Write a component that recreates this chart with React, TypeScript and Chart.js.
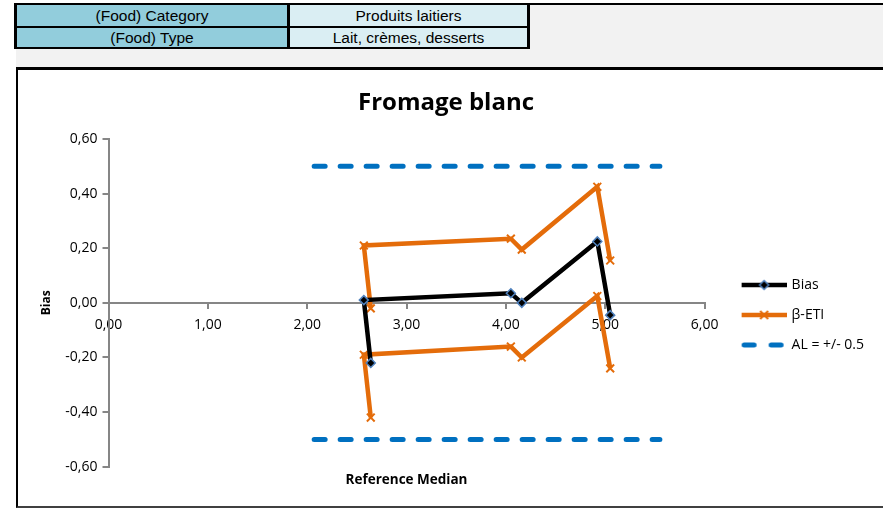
import React, { useEffect, useRef } from 'react';
import { Chart, registerables } from 'chart.js';

Chart.register(...registerables);

// ---- data ----
const referenceMedian = [2.64, 2.57, 4.05, 4.16, 4.92, 5.05];
const biasValues = [-0.22, 0.01, 0.035, 0.0, 0.225, -0.045];
const etiUpperValues = [-0.02, 0.21, 0.235, 0.195, 0.425, 0.155];
const etiLowerValues = [-0.42, -0.19, -0.16, -0.2, 0.025, -0.24];
const alXValues = [2.07, 5.55];
const alUpperValues = [0.5, 0.5];
const alLowerValues = [-0.5, -0.5];
const xTickValues = [0, 1, 2, 3, 4, 5, 6];
const yTickValues = [-0.6, -0.4, -0.2, 0, 0.2, 0.4, 0.6];
const legendLabels = ['Bias', 'β-ETI', 'AL = +/- 0.5'];
const chartTitle = 'Fromage blanc';
const xAxisTitle = 'Reference Median';
const yAxisTitle = 'Bias';
const tableRows = [
  ['(Food) Category', 'Produits laitiers'],
  ['(Food) Type', 'Lait, crèmes, desserts'],
];

const BLACK = '#000000';
const MARKER_BLUE = '#4F81BD';
const ORANGE = '#E46C0A';
const AL_BLUE = '#0070C0';
const AXIS_GRAY = '#868686';
const FONT = "'Open Sans', 'DejaVu Sans', sans-serif";

const fmt = (v: number) => Number(v).toFixed(2).replace('.', ',');

function makeLegendImage(kind: string): HTMLCanvasElement {
  const c = document.createElement('canvas');
  c.width = 68;
  c.height = 14;
  const ctx = c.getContext('2d') as CanvasRenderingContext2D;
  const x0 = 23;
  const x1 = 68;
  const cy = 7;
  const cx = (x0 + x1) / 2;
  ctx.lineCap = 'butt';
  if (kind === 'bias') {
    ctx.strokeStyle = BLACK;
    ctx.lineWidth = 4.5;
    ctx.beginPath();
    ctx.moveTo(x0, cy);
    ctx.lineTo(x1, cy);
    ctx.stroke();
    const r = 4.5;
    ctx.beginPath();
    ctx.moveTo(cx, cy - r);
    ctx.lineTo(cx + r, cy);
    ctx.lineTo(cx, cy + r);
    ctx.lineTo(cx - r, cy);
    ctx.closePath();
    ctx.fillStyle = BLACK;
    ctx.fill();
    ctx.strokeStyle = MARKER_BLUE;
    ctx.lineWidth = 1.5;
    ctx.stroke();
  } else if (kind === 'eti') {
    ctx.strokeStyle = ORANGE;
    ctx.lineWidth = 4.5;
    ctx.beginPath();
    ctx.moveTo(x0, cy);
    ctx.lineTo(x1, cy);
    ctx.stroke();
    const r = 4;
    ctx.lineWidth = 2;
    ctx.beginPath();
    ctx.moveTo(cx - r, cy - r);
    ctx.lineTo(cx + r, cy + r);
    ctx.moveTo(cx + r, cy - r);
    ctx.lineTo(cx - r, cy + r);
    ctx.stroke();
  } else {
    ctx.strokeStyle = AL_BLUE;
    ctx.lineWidth = 5;
    ctx.lineCap = 'round';
    ctx.beginPath();
    ctx.moveTo(x0 + 2.5, cy);
    ctx.lineTo(x0 + 12.5, cy);
    ctx.moveTo(x0 + 29.5, cy);
    ctx.lineTo(x0 + 39.5, cy);
    ctx.stroke();
  }
  return c;
}

export default function App() {
  const canvasRef = useRef<HTMLCanvasElement | null>(null);

  useEffect(() => {
    const canvas = canvasRef.current;
    if (!canvas) return;
    const legendImages = [makeLegendImage('bias'), makeLegendImage('eti'), makeLegendImage('al')];

    const chart = new Chart(canvas, {
      type: 'scatter',
      data: {
        datasets: [
          {
            label: legendLabels[0],
            data: referenceMedian.map((x, i) => ({ x, y: biasValues[i] })),
            showLine: true,
            borderColor: BLACK,
            borderWidth: 4.5,
            pointStyle: 'rectRot',
            pointRadius: 4.5,
            pointBackgroundColor: BLACK,
            pointBorderColor: MARKER_BLUE,
            pointBorderWidth: 1.5,
            xAxisID: 'x',
            yAxisID: 'y',
          },
          {
            label: legendLabels[1],
            data: referenceMedian.map((x, i) => ({ x, y: etiUpperValues[i] })),
            showLine: true,
            borderColor: ORANGE,
            borderWidth: 4.5,
            pointStyle: 'crossRot',
            pointRadius: 5.5,
            pointBorderColor: ORANGE,
            pointBackgroundColor: ORANGE,
            pointBorderWidth: 2,
            xAxisID: 'x',
            yAxisID: 'y',
          },
          {
            label: legendLabels[1] + ' (lower)',
            data: referenceMedian.map((x, i) => ({ x, y: etiLowerValues[i] })),
            showLine: true,
            borderColor: ORANGE,
            borderWidth: 4.5,
            pointStyle: 'crossRot',
            pointRadius: 5.5,
            pointBorderColor: ORANGE,
            pointBackgroundColor: ORANGE,
            pointBorderWidth: 2,
            xAxisID: 'x',
            yAxisID: 'y',
          },
          {
            label: legendLabels[2],
            data: alXValues.map((x, i) => ({ x, y: alUpperValues[i] })),
            showLine: true,
            borderColor: AL_BLUE,
            borderWidth: 5,
            borderDash: [11, 15],
            borderCapStyle: 'round',
            pointRadius: 0,
            xAxisID: 'x',
            yAxisID: 'y',
          },
          {
            label: legendLabels[2] + ' (lower)',
            data: alXValues.map((x, i) => ({ x, y: alLowerValues[i] })),
            showLine: true,
            borderColor: AL_BLUE,
            borderWidth: 5,
            borderDash: [11, 15],
            borderCapStyle: 'round',
            pointRadius: 0,
            xAxisID: 'x',
            yAxisID: 'y',
          },
        ],
      },
      options: {
        responsive: false,
        animation: false,
        devicePixelRatio: 1,
        layout: { padding: { left: 0, top: 0, right: 9, bottom: 15 } },
        plugins: {
          title: {
            display: true,
            text: chartTitle,
            color: BLACK,
            font: { family: FONT, size: 24, weight: 'bold', lineHeight: 1.2 },
            padding: { top: 18.6, bottom: 21.6 },
          },
          legend: {
            position: 'right',
            title: {
              display: true,
              text: ' ',
              font: { family: FONT, size: 10, lineHeight: 1 },
              padding: { top: 59, bottom: 0 },
            },
            labels: {
              usePointStyle: true,
              pointStyleWidth: 64,
              padding: 16,
              color: BLACK,
              font: { family: FONT, size: 14 },
              generateLabels: () =>
                legendLabels.map((text, i) => ({
                  text,
                  pointStyle: legendImages[i],
                  fillStyle: 'rgba(0,0,0,0)',
                  strokeStyle: 'rgba(0,0,0,0)',
                  lineWidth: 0,
                  hidden: false,
                  datasetIndex: i === 0 ? 0 : i === 1 ? 1 : 3,
                  fontColor: BLACK,
                })),
            },
          },
          tooltip: { enabled: false },
        },
        scales: {
          x: {
            type: 'linear',
            position: { y: 0 },
            min: 0,
            max: 6,
            afterBuildTicks: (scale: any) => {
              scale.ticks = xTickValues.map((v) => ({ value: v }));
            },
            ticks: {
              callback: (v: any) => fmt(v),
              color: BLACK,
              font: { family: FONT, size: 14 },
              padding: 9,
              maxRotation: 0,
              autoSkip: false,
            },
            grid: {
              drawOnChartArea: false,
              drawTicks: true,
              tickLength: 5,
              color: AXIS_GRAY,
              lineWidth: 2,
            },
            border: { color: AXIS_GRAY, width: 2 },
          },
          xTitle: {
            type: 'linear',
            axis: 'x',
            position: 'bottom',
            min: 0,
            max: 6,
            ticks: { display: false },
            grid: { display: false, drawTicks: false },
            border: { display: false },
            title: {
              display: true,
              text: xAxisTitle,
              color: BLACK,
              font: { family: FONT, size: 13.5, weight: 'bold', lineHeight: 1.2 },
              padding: { top: 0, bottom: 2.9 },
            },
            afterFit: (scale: any) => {
              scale.height = 24.3;
            },
          },
          y: {
            type: 'linear',
            position: 'left',
            min: -0.6,
            max: 0.6,
            afterBuildTicks: (scale: any) => {
              scale.ticks = yTickValues.map((v) => ({ value: v }));
            },
            ticks: {
              callback: (v: any) => fmt(v),
              color: BLACK,
              font: { family: FONT, size: 14 },
              padding: 5,
              autoSkip: false,
            },
            grid: {
              drawOnChartArea: false,
              drawTicks: true,
              tickLength: 6,
              color: AXIS_GRAY,
              lineWidth: 2,
            },
            border: { color: AXIS_GRAY, width: 2 },
            title: {
              display: true,
              text: yAxisTitle,
              color: BLACK,
              font: { family: FONT, size: 12, weight: 'bold', lineHeight: 1.2 },
              padding: { top: 21, bottom: 0 },
            },
            afterFit: (scale: any) => {
              scale.width = 90.5;
            },
          },
        },
      } as any,
    });

    return () => {
      chart.destroy();
    };
  }, []);

  const cellText: React.CSSProperties = {
    position: 'absolute',
    display: 'flex',
    alignItems: 'center',
    justifyContent: 'center',
    fontFamily: "'Liberation Sans', Arial, sans-serif",
    fontSize: 15.5,
    color: '#000',
    whiteSpace: 'nowrap',
  };

  return (
    <div
      style={{
        position: 'absolute',
        left: 0,
        top: 0,
        width: 883,
        height: 509,
        overflow: 'hidden',
        background: '#ffffff',
      }}
    >
      <div style={{ position: 'absolute', left: 16, top: 5, width: 867, height: 62, background: '#F2F2F2' }} />
      <div style={{ position: 'absolute', left: 14, top: 3, width: 869, height: 2, background: '#000' }} />
      <div style={{ position: 'absolute', left: 14, top: 3, width: 516, height: 46, background: '#000' }} />
      <div style={{ ...cellText, left: 17, top: 5, width: 270, height: 21, background: '#92CDDC' }}>{tableRows[0][0]}</div>
      <div style={{ ...cellText, left: 290, top: 5, width: 237, height: 21, background: '#DAEEF3' }}>{tableRows[0][1]}</div>
      <div style={{ ...cellText, left: 17, top: 28, width: 270, height: 19, background: '#92CDDC' }}>{tableRows[1][0]}</div>
      <div style={{ ...cellText, left: 290, top: 28, width: 237, height: 19, background: '#DAEEF3' }}>{tableRows[1][1]}</div>
      <div
        style={{
          position: 'absolute',
          left: 16,
          top: 67,
          width: 880,
          height: 436,
          borderTop: '3px solid #000',
          borderLeft: '2px solid #000',
          borderBottom: '2px solid #404040',
          background: '#fff',
        }}
      >
        <canvas
          ref={canvasRef}
          width={865}
          height={436}
          style={{ position: 'absolute', left: 0, top: 0, width: 865, height: 436, display: 'block' }}
        />
      </div>
    </div>
  );
}
